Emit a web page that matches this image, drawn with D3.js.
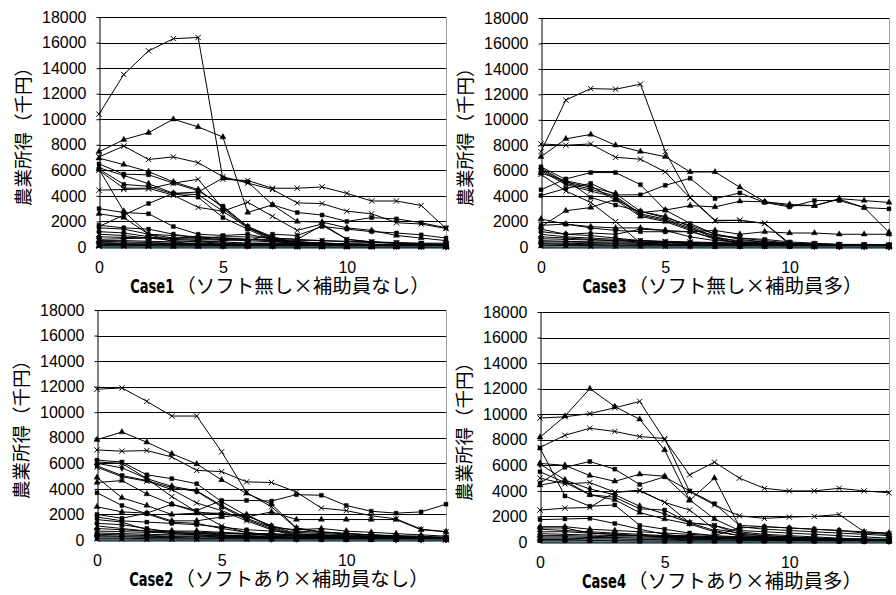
<!DOCTYPE html>
<html>
<head>
<meta charset="utf-8">
<script src="https://cdn.jsdelivr.net/npm/d3@7"></script>
<style>
  body { margin: 0; background: #fff; }
  svg { display: block; }
</style>
</head>
<body>
<svg id="chart" width="896" height="595"></svg>
<script>
// x categories and axis ticks
const years = [0, 1, 2, 3, 4, 5, 6, 7, 8, 9, 10, 11, 12, 13, 14];
const xTicks = [0, 5, 10];
const yTicks = [0, 2000, 4000, 6000, 8000, 10000, 12000, 14000, 16000, 18000];
const yLabel = '農業所得（千円）';
const caseNames = ['Case1', 'Case2', 'Case3', 'Case4'];
const caseNotes = ['（ソフト無し×補助員なし）', '（ソフトあり×補助員なし）', '（ソフト無し×補助員多）', '（ソフトあり×補助員多）'];

// farm income per farm (千円); last row of each case is the teal base line
const case1 = [
  [10400, 13500, 15350, 16300, 16400, 5300, 5200, 4600, 4600, 4700, 4200, 3600, 3600, 3250, 1450],
  [7450, 8400, 8950, 10000, 9400, 8600, 2700, 3300, 2000, 1950, 1500, 1300, 900, 700, 500],
  [7050, 7900, 6850, 7050, 6600, 5500, 5000, 4500, 3450, 3400, 2800, 2600, 1900, 1800, 1450],
  [1600, 2500, 3400, 4200, 4300, 5400, 5100, 3300, 2700, 2500, 2000, 2300, 2200, 1900, 1500],
  [6950, 6450, 5900, 5100, 4500, 3100, 1600, 800, 300, 200, 150, 100, 80, 60, 50],
  [6500, 5700, 5650, 5000, 4400, 3200, 1600, 700, 600, 1700, 600, 400, 300, 250, 200],
  [6200, 5600, 4950, 4200, 4100, 2800, 1500, 600, 300, 200, 150, 100, 80, 60, 40],
  [6100, 4900, 4750, 4150, 3900, 2300, 1400, 500, 200, 100, 80, 60, 40, 30, 20],
  [6000, 4600, 4600, 4050, 3100, 2800, 3500, 2400, 1300, 1800, 600, 400, 300, 200, 150],
  [6100, 2800, 1000, 400, 200, 100, 80, 60, 40, 30, 20, 10, 10, 10, 10],
  [4450, 4500, 4550, 5000, 5300, 3000, 1500, 700, 300, 200, 100, 80, 60, 50, 40],
  [3000, 2700, 2600, 1600, 1000, 900, 1000, 600, 400, 300, 250, 200, 150, 100, 80],
  [2600, 2300, 1000, 700, 800, 700, 600, 500, 400, 300, 200, 150, 100, 100, 80],
  [1700, 1500, 1400, 1000, 700, 600, 500, 1000, 900, 1600, 1400, 1200, 1100, 950, 700],
  [1500, 1400, 1000, 900, 800, 700, 600, 500, 400, 300, 250, 200, 150, 100, 80],
  [1200, 1100, 800, 600, 500, 400, 300, 250, 200, 150, 100, 100, 80, 60, 50],
  [1000, 900, 700, 500, 400, 300, 200, 150, 100, 100, 80, 60, 50, 40, 30],
  [800, 750, 700, 650, 600, 600, 500, 400, 300, 300, 250, 200, 200, 150, 150],
  [600, 650, 700, 700, 700, 800, 800, 700, 600, 500, 400, 350, 300, 250, 200],
  [500, 500, 450, 400, 400, 500, 600, 600, 500, 500, 450, 400, 350, 300, 300],
  [450, 400, 350, 300, 250, 200, 150, 100, 100, 80, 60, 50, 40, 30, 20],
  [350, 300, 300, 250, 250, 300, 300, 300, 250, 250, 200, 200, 200, 150, 150],
  [300, 250, 200, 150, 150, 100, 100, 100, 100, 100, 100, 100, 100, 100, 100],
  [200, 200, 200, 200, 200, 200, 200, 200, 200, 200, 200, 200, 200, 200, 200],
  [150, 150, 100, 100, 100, 100, 100, 100, 100, 100, 100, 50, 50, 50, 50],
  [100, 100, 100, 50, 50, 50, 50, 50, 50, 50, 50, 50, 50, 50, 50],
  [50, 50, 50, 50, 50, 50, 50, 50, 0, 0, 0, 0, 0, 0, 0],
  [0, 0, 0, 0, 0, 0, 0, 0, 0, 0, 0, 0, 0, 0, 0]
];

const case2 = [
  [11800, 11900, 10850, 9700, 9700, 6900, 3700, 2600, 900, 600, 500, 400, 300, 200, 150],
  [7850, 8450, 7650, 6750, 5950, 4700, 3650, 2800, 950, 650, 500, 400, 350, 300, 200],
  [7050, 6950, 7000, 6500, 5450, 5350, 4550, 4500, 3750, 2500, 2300, 1900, 1650, 850, 650],
  [2000, 1700, 2100, 2800, 2300, 3100, 3100, 3050, 3550, 3500, 2700, 2250, 2100, 2200, 2800],
  [4900, 3300, 2700, 2000, 2100, 2100, 1800, 2200, 1600, 1600, 1600, 1600, 1600, 800, 650],
  [6250, 6100, 5100, 4800, 4400, 3000, 1900, 1100, 500, 400, 300, 200, 150, 100, 80],
  [6000, 5650, 4800, 4200, 3850, 2700, 1700, 1000, 400, 300, 200, 150, 100, 80, 60],
  [5800, 5050, 4650, 4100, 3800, 2600, 1600, 900, 350, 250, 150, 100, 80, 60, 40],
  [5700, 4950, 4600, 3950, 2900, 2300, 1500, 800, 300, 200, 100, 80, 60, 40, 20],
  [4500, 4650, 3600, 2800, 2200, 2000, 1900, 1100, 700, 600, 500, 400, 300, 200, 150],
  [6100, 6000, 4800, 3400, 2200, 1100, 600, 300, 200, 100, 80, 60, 40, 30, 20],
  [3700, 2700, 2050, 1400, 1300, 900, 600, 400, 300, 200, 150, 100, 80, 60, 40],
  [2600, 2200, 2100, 1500, 1500, 1800, 2000, 1000, 800, 900, 700, 600, 500, 400, 300],
  [1800, 1500, 1400, 1300, 1200, 1000, 800, 700, 600, 500, 400, 300, 250, 200, 150],
  [1600, 1400, 800, 700, 700, 600, 500, 500, 400, 400, 300, 300, 250, 200, 200],
  [1300, 1200, 900, 600, 500, 400, 300, 250, 200, 150, 100, 100, 80, 60, 50],
  [1100, 900, 700, 500, 400, 300, 250, 200, 150, 100, 100, 80, 60, 50, 40],
  [900, 800, 700, 650, 600, 550, 500, 450, 400, 350, 300, 300, 250, 250, 200],
  [700, 650, 600, 550, 500, 500, 450, 400, 350, 300, 300, 250, 250, 200, 200],
  [550, 500, 450, 400, 400, 350, 350, 300, 300, 250, 250, 200, 200, 150, 150],
  [450, 400, 350, 300, 300, 250, 250, 200, 200, 200, 150, 150, 150, 100, 100],
  [350, 300, 300, 250, 250, 200, 200, 200, 150, 150, 150, 100, 100, 100, 100],
  [250, 250, 200, 200, 150, 150, 150, 100, 100, 100, 100, 100, 50, 50, 50],
  [150, 150, 100, 100, 100, 100, 100, 100, 50, 50, 50, 50, 50, 50, 50],
  [80, 80, 50, 50, 50, 50, 50, 50, 50, 50, 50, 50, 50, 50, 50],
  [0, 0, 0, 0, 0, 0, 0, 0, 0, 0, 0, 0, 0, 0, 0]
];

const case3 = [
  [7500, 11550, 12450, 12400, 12800, 7500, 3900, 2100, 2100, 1850, 300, 200, 150, 100, 80],
  [7100, 8500, 8850, 8000, 7500, 7100, 5900, 5900, 4700, 3550, 3350, 3250, 3750, 3100, 1150],
  [8100, 8000, 8100, 7050, 6900, 5900, 3850, 2050, 2100, 1850, 200, 150, 100, 80, 60],
  [4050, 4600, 5000, 4100, 4100, 4850, 5400, 3800, 4250, 3500, 3150, 3650, 3650, 3100, 3000],
  [1600, 2850, 3100, 3750, 2700, 2900, 3250, 3150, 3600, 3550, 3250, 3250, 3800, 3650, 3500],
  [4500, 5350, 5850, 5850, 4900, 2900, 1850, 1000, 700, 600, 400, 300, 200, 150, 100],
  [6200, 5100, 4700, 4200, 2800, 2400, 1600, 800, 400, 300, 200, 100, 80, 60, 40],
  [6100, 5000, 4550, 4000, 2600, 2200, 1500, 700, 300, 200, 100, 80, 60, 40, 20],
  [6000, 4900, 4400, 3900, 2500, 2100, 1400, 900, 700, 500, 300, 200, 150, 100, 80],
  [5800, 5200, 4800, 3700, 2400, 2000, 1300, 600, 300, 200, 100, 80, 60, 40, 20],
  [5700, 4400, 3500, 2000, 300, 200, 150, 100, 80, 60, 40, 30, 20, 10, 10],
  [6300, 5300, 3900, 3300, 2800, 2300, 1700, 1000, 600, 400, 200, 150, 100, 80, 60],
  [2200, 1800, 1600, 1500, 1500, 1300, 1200, 1300, 1000, 1200, 1100, 1100, 1000, 1000, 1000],
  [1700, 1800, 1500, 1300, 1200, 1200, 1200, 700, 500, 400, 300, 200, 150, 100, 80],
  [1400, 1000, 1100, 1000, 1400, 1300, 800, 500, 400, 300, 200, 150, 100, 80, 60],
  [1200, 1000, 900, 700, 500, 400, 300, 250, 200, 150, 100, 80, 60, 50, 40],
  [1000, 800, 700, 600, 500, 400, 350, 300, 250, 200, 150, 100, 100, 80, 60],
  [800, 700, 600, 500, 400, 350, 300, 250, 200, 200, 150, 150, 100, 100, 100],
  [650, 600, 550, 500, 500, 450, 400, 350, 300, 300, 250, 250, 200, 200, 200],
  [500, 450, 400, 400, 350, 350, 300, 300, 300, 250, 250, 200, 200, 200, 150],
  [400, 400, 350, 300, 300, 250, 250, 200, 200, 200, 150, 150, 150, 100, 100],
  [300, 300, 250, 250, 200, 200, 200, 150, 150, 150, 100, 100, 100, 100, 100],
  [250, 200, 200, 150, 150, 150, 100, 100, 100, 100, 100, 50, 50, 50, 50],
  [150, 150, 100, 100, 100, 100, 100, 50, 50, 50, 50, 50, 50, 50, 50],
  [100, 100, 50, 50, 50, 50, 50, 50, 50, 50, 50, 50, 50, 50, 50],
  [0, 0, 0, 0, 0, 0, 0, 0, 0, 0, 0, 0, 0, 0, 0]
];

const case4 = [
  [9700, 9800, 10050, 10500, 11000, 8000, 5250, 6250, 5000, 4200, 4000, 4000, 4200, 4000, 3850],
  [8200, 9850, 12000, 10600, 9600, 7200, 3250, 5000, 1200, 1000, 900, 800, 700, 600, 500],
  [7400, 8350, 8900, 8650, 8250, 8100, 3950, 2900, 2050, 1850, 1950, 2000, 2150, 800, 650],
  [4600, 5850, 6300, 5700, 4500, 5100, 4000, 3000, 1300, 1200, 1100, 1000, 900, 700, 600],
  [6150, 6000, 5200, 4750, 5300, 5150, 3300, 1800, 900, 800, 700, 600, 500, 400, 300],
  [7350, 3600, 2800, 2900, 1300, 1000, 700, 500, 400, 300, 250, 200, 150, 100, 80],
  [6100, 4850, 4150, 3700, 2800, 2200, 1500, 900, 500, 400, 300, 200, 150, 100, 80],
  [5500, 4650, 3700, 3500, 2600, 2500, 1500, 1300, 600, 500, 400, 300, 200, 150, 100],
  [5000, 4550, 4650, 3900, 4000, 3100, 2500, 1000, 700, 500, 400, 300, 200, 150, 100],
  [4450, 4800, 3700, 3300, 2300, 1800, 1400, 800, 500, 400, 300, 200, 150, 100, 80],
  [2500, 2650, 2700, 3900, 4050, 3100, 1500, 1300, 800, 600, 500, 400, 300, 200, 150],
  [1750, 1800, 1850, 1450, 1000, 600, 400, 300, 200, 150, 100, 80, 60, 50, 40],
  [1200, 1200, 1000, 900, 800, 700, 600, 500, 1100, 1200, 1100, 1000, 900, 800, 700],
  [1100, 1100, 700, 600, 500, 400, 300, 300, 250, 200, 150, 100, 80, 60, 50],
  [1000, 900, 800, 700, 600, 500, 500, 400, 400, 350, 300, 300, 250, 200, 200],
  [800, 800, 700, 600, 500, 450, 400, 350, 300, 250, 200, 200, 150, 150, 100],
  [650, 600, 550, 500, 500, 450, 400, 400, 350, 350, 300, 300, 250, 250, 200],
  [500, 500, 450, 400, 400, 350, 350, 300, 300, 300, 250, 250, 200, 200, 200],
  [400, 400, 350, 350, 300, 300, 250, 250, 250, 200, 200, 200, 150, 150, 150],
  [300, 300, 250, 250, 200, 200, 200, 200, 150, 150, 150, 150, 100, 100, 100],
  [200, 200, 150, 150, 150, 150, 100, 100, 100, 100, 100, 100, 100, 50, 50],
  [100, 100, 100, 100, 50, 50, 50, 50, 50, 50, 50, 50, 50, 50, 50],
  [0, 0, 0, 0, 0, 0, 0, 0, 0, 0, 0, 0, 0, 0, 0]
];

const TICK_FONT = "'Liberation Sans', Arial, sans-serif";
const JP_FONT = "'Noto Sans CJK JP', sans-serif";
const CASE_FONT = "'DejaVu Sans', sans-serif";
const TEAL = '#2c6b78';

const panels = [
  { data: case1, name: caseNames[0], note: caseNotes[0], left: 99, right: 446, top: 17, bottom: 247 },
  { data: case3, name: caseNames[2], note: caseNotes[2], left: 541, right: 889, top: 18, bottom: 247 },
  { data: case2, name: caseNames[1], note: caseNotes[1], left: 97, right: 446, top: 310, bottom: 540 },
  { data: case4, name: caseNames[3], note: caseNotes[3], left: 540, right: 889, top: 312, bottom: 542 }
];

const symTimes = d3.symbolTimes || d3.symbolX;
const symbolCycle = [symTimes, d3.symbolTriangle, symTimes, d3.symbolSquare, d3.symbolTriangle, d3.symbolSquare, d3.symbolDiamond, d3.symbolSquare];

const svg = d3.select('#chart');

function drawPanel(p) {
  const x = d3.scaleLinear().domain([0, 14]).range([p.left, p.right]);
  const y = d3.scaleLinear().domain([0, 18000]).range([p.bottom, p.top]);
  const g = svg.append('g');

  // horizontal gridlines, snapped to the pixel grid so they stay crisp
  g.append('g').selectAll('line')
    .data(yTicks.slice(1))
    .join('line')
    .attr('x1', p.left).attr('x2', p.right)
    .attr('y1', d => Math.round(y(d)) + 0.5).attr('y2', d => Math.round(y(d)) + 0.5)
    .attr('stroke', '#000').attr('stroke-width', 1);

  // right edge of plot area
  g.append('line')
    .attr('x1', p.right + 0.5).attr('x2', p.right + 0.5)
    .attr('y1', p.top).attr('y2', p.bottom)
    .attr('stroke', '#a0a0a0').attr('stroke-width', 1);

  // series lines
  const line = d3.line().x((d, i) => x(years[i])).y(d => y(d));
  const last = p.data.length - 1;
  g.append('g').selectAll('path')
    .data(p.data)
    .join('path')
    .attr('d', line)
    .attr('fill', 'none')
    .attr('stroke', (d, i) => i === last ? TEAL : '#000')
    .attr('stroke-width', (d, i) => i === last ? 1.6 : 1);

  // markers
  p.data.forEach((series, si) => {
    if (si === last) return;
    const type = symbolCycle[si % symbolCycle.length];
    const stroked = type === symTimes;
    g.append('g').selectAll('path')
      .data(series)
      .join('path')
      .attr('transform', (d, i) => `translate(${x(years[i])},${y(d)})`)
      .attr('d', d3.symbol().type(type).size(stroked ? 20 : 16))
      .attr('fill', stroked ? 'none' : '#000')
      .attr('stroke', '#000')
      .attr('stroke-width', stroked ? 1 : 0.4);
  });

  // y axis
  g.append('g')
    .attr('transform', `translate(${p.left + 0.5},0)`)
    .call(d3.axisLeft(y).tickValues(yTicks).tickSize(3).tickSizeOuter(0).tickPadding(10).tickFormat(d3.format('d')))
    .call(s => s.select('.domain').attr('stroke', '#000'))
    .call(s => s.selectAll('text').attr('font-family', TICK_FONT).attr('font-size', 16).attr('fill', '#000'));

  // x axis
  g.append('g')
    .attr('transform', `translate(0,${p.bottom + 0.5})`)
    .call(d3.axisBottom(x).tickValues(xTicks).tickSize(0).tickSizeOuter(0).tickPadding(14))
    .call(s => s.select('.domain').attr('stroke', '#000'))
    .call(s => s.selectAll('text').attr('font-family', TICK_FONT).attr('font-size', 16).attr('fill', '#000'));

  // y title
  g.append('text')
    .attr('transform', `translate(${p.left - 77},${(p.top + p.bottom) / 2}) rotate(-90)`)
    .attr('text-anchor', 'middle')
    .attr('dominant-baseline', 'central')
    .attr('font-family', JP_FONT)
    .attr('font-size', 18.5)
    .attr('fill', '#000')
    .text(yLabel);

  // case title: condensed bold case name followed by the Japanese note, centred together
  const nameW = 46;
  const baseY = p.bottom + 46;
  const note = g.append('text')
    .attr('y', baseY)
    .attr('font-family', JP_FONT)
    .attr('font-size', 19.5)
    .attr('fill', '#000')
    .text(p.note);
  const noteW = note.node().getComputedTextLength();
  const startX = (p.left + p.right) / 2 + 7.5 - (nameW + noteW) / 2;
  note.attr('x', startX + nameW);
  g.append('text')
    .attr('x', startX)
    .attr('y', baseY)
    .attr('font-family', CASE_FONT)
    .attr('font-weight', 'bold')
    .attr('font-size', 19)
    .attr('textLength', nameW - 2)
    .attr('lengthAdjust', 'spacingAndGlyphs')
    .attr('fill', '#000')
    .text(p.name);
}

panels.forEach(drawPanel);
</script>
</body>
</html>
